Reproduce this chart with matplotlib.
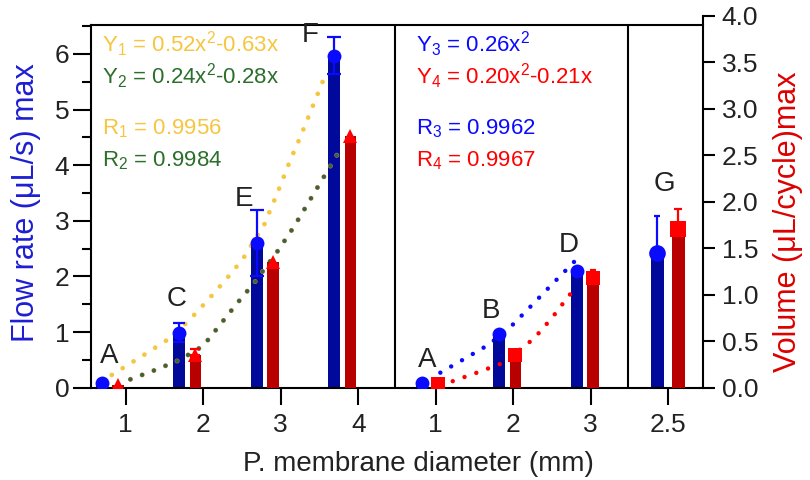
import numpy as np
import matplotlib
matplotlib.use('Agg')
import matplotlib.pyplot as plt
from matplotlib import patheffects as pe
from matplotlib.ticker import MultipleLocator

plt.rcParams['font.family'] = ['Liberation Sans', 'DejaVu Sans']
plt.rcParams['mathtext.default'] = 'regular'

# data
tick_labels = ['1', '2', '3', '4', '1', '2', '3', '2.5']
point_names = ['A', 'C', 'E', 'F', 'A', 'B', 'D', 'G']
flow = [0.08, 0.99, 2.60, 5.97, 0.09, 0.96, 2.09, 2.43]          # uL/s
flow_err_lo = [0, 0.17, 0.60, 0.33, 0, 0, 0, 0]
flow_err_hi = [0, 0.17, 0.60, 0.33, 0, 0, 0, 0.65]
volume = [0.03, 0.35, 1.35, 2.71, 0.04, 0.35, 1.18, 1.71]         # uL/cycle
volume_err_hi = [0, 0.07, 0, 0, 0, 0, 0.09, 0.21]

# dotted trend curves
trend1_x = [-0.18, 0.27, 0.57, 0.81, 1.05, 1.29, 1.51, 1.79, 1.98, 2.12, 2.26, 2.39, 2.59]
trend1_y = [0.23, 0.62, 0.89, 1.20, 1.56, 1.94, 2.31, 2.94, 3.58, 4.08, 4.53, 4.98, 5.67]
trend2_x = [0.06, 0.38, 0.70, 1.00, 1.22, 1.43, 1.66, 1.97, 2.17, 2.35, 2.53, 2.71, 2.80]
trend2_y = [0.09, 0.19, 0.30, 0.45, 0.68, 0.90, 1.13, 1.48, 1.73, 1.98, 2.23, 2.48, 2.61]
trend3_x = [4.06, 4.36, 4.68, 4.95, 5.19, 5.44, 5.82]
trend3_y = [0.27, 0.51, 0.77, 1.07, 1.41, 1.77, 2.31]
trend4_x = [4.22, 4.56, 4.88, 5.27, 5.50, 5.72, 5.84]
trend4_y = [0.07, 0.17, 0.27, 0.53, 0.75, 0.99, 1.10]

eq_left = ['Y$_1$ = 0.52x$^2$-0.63x', 'Y$_2$ = 0.24x$^2$-0.28x',
           'R$_1$ = 0.9956', 'R$_2$ = 0.9984']
eq_right = ['Y$_3$ = 0.26x$^2$', 'Y$_4$ = 0.20x$^2$-0.21x',
            'R$_3$ = 0.9962', 'R$_4$ = 0.9967']

# layout / style
blue_bar = '#00099a'
red_bar = '#b80000'
blue_pt = '#0a0aff'
red_pt = '#ff0000'
yellow = '#f6c640'
green = '#2c6e2c'
txt_col = '#222222'

x = np.arange(len(tick_labels))
blue_off = np.array([-0.31] * 4 + [-0.18] * 3 + [-0.14])
red_off = np.array([-0.10] * 4 + [0.03] * 3 + [0.13])
bar_w = [0.15] * 7 + [0.165]
xb = x + blue_off
xr = x + red_off
blue_cap = [0, 4.0, 4.7, 4.7, 0, 0, 0, 2.4]
red_cap = [0, 3.3, 0, 0, 0, 0, 2.4, 2.6]
label_xy = [(-0.21, 0.45), (0.66, 1.47), (1.52, 3.26), (2.38, 6.22),
            (3.89, 0.38), (4.72, 1.25), (5.72, 2.44), (6.95, 3.53)]

fig = plt.figure(figsize=(8.1, 4.8), dpi=100)
ax = fig.add_axes([0.1120, 0.1923, 0.7559, 0.7556])
ax2 = fig.add_axes([0.1120, 0.1923, 0.7559, 0.7750])
ax2.patch.set_visible(False)

xlim = (-0.452, 7.45)
ax.set_xlim(*xlim)
ax2.set_xlim(*xlim)
ax.set_ylim(0, 6.52)
ax2.set_ylim(0, 4.0)

# flow rate (left axis)
ax.plot(trend1_x, trend1_y, color=yellow, lw=3.4, linestyle=(0, (0.01, 2.7)),
        dash_capstyle='round', zorder=1)
ax.plot(trend3_x, trend3_y, color=blue_pt, lw=3.2, linestyle=(0, (0.01, 2.8)),
        dash_capstyle='round', zorder=1)
ax.bar(xb, flow, width=bar_w, color=blue_bar, zorder=2)
for i in range(len(x)):
    if flow_err_hi[i] > 0:
        ax.errorbar(xb[i], flow[i], yerr=[[flow_err_lo[i]], [flow_err_hi[i]]],
                    fmt='none', ecolor=blue_pt, elinewidth=1.6,
                    capsize=blue_cap[i], capthick=1.6, zorder=3)
ms_b = [10] * 7 + [12]
for i in range(len(x)):
    ax.plot(xb[i], flow[i], 'o', color=blue_pt, ms=ms_b[i], mew=0, zorder=4)

for i, name in enumerate(point_names):
    ax.text(label_xy[i][0], label_xy[i][1], name, fontsize=20, color=txt_col,
            ha='center', va='baseline')

ax.axvline(3.47, color='black', lw=1.5)
ax.axvline(6.48, color='black', lw=1.5)

# volume (right axis)
ax2.plot(trend2_x, trend2_y, color=green, lw=3.0, linestyle=(0, (0.01, 3.0)),
         dash_capstyle='round', zorder=1,
         path_effects=[pe.withStroke(linewidth=3.6, foreground='#e07070')])
ax2.plot(trend4_x, trend4_y, color=red_pt, lw=3.2, linestyle=(0, (0.01, 2.8)),
         dash_capstyle='round', zorder=1)
ax2.bar(xr, volume, width=bar_w, color=red_bar, zorder=2)
for i in range(len(x)):
    if volume_err_hi[i] > 0:
        ax2.errorbar(xr[i], volume[i], yerr=[[0], [volume_err_hi[i]]],
                     fmt='none', ecolor=red_pt, elinewidth=1.6,
                     capsize=red_cap[i], capthick=1.6, zorder=3)
ax2.plot(xr[:4], volume[:4], '^', color=red_pt, ms=10, mew=0, zorder=4)
ax2.plot(xr[4:7], volume[4:7], 's', color=red_pt, ms=10, mew=0, zorder=4)
ax2.plot(xr[7:], volume[7:], 's', color=red_pt, ms=12, mew=0, zorder=4)

# equations
eq_y = [6.04, 5.46, 4.55, 3.97]
eq_cols_l = [yellow, green, yellow, green]
eq_cols_r = [blue_pt, red_pt, blue_pt, red_pt]
for i in range(4):
    ax.text(-0.30, eq_y[i], eq_left[i], fontsize=16, color=eq_cols_l[i],
            va='baseline', ha='left')
    ax.text(3.75, eq_y[i], eq_right[i], fontsize=16, color=eq_cols_r[i],
            va='baseline', ha='left')

# axes styling
for s in ['left', 'top', 'bottom']:
    ax.spines[s].set_linewidth(1.5)
ax.spines['right'].set_visible(False)
for s in ['left', 'top', 'bottom']:
    ax2.spines[s].set_visible(False)
ax2.spines['right'].set_linewidth(1.5)

ax.set_xticks(x)
ax.set_xticklabels(tick_labels)
ax.yaxis.set_major_locator(MultipleLocator(1))
ax.yaxis.set_minor_locator(MultipleLocator(0.5))
ax.tick_params(axis='y', which='major', direction='out', length=13, width=1.5,
               labelsize=19, pad=2.5, labelcolor=txt_col)
ax.tick_params(axis='y', which='minor', direction='out', length=6.5, width=1.5)
ax.tick_params(axis='x', direction='out', length=12, width=1.5, labelsize=19,
               pad=6, labelcolor=txt_col)

ax2.set_xticks([])
ax2.yaxis.tick_right()
ax2.yaxis.set_major_locator(MultipleLocator(0.5))
ax2.yaxis.set_major_formatter(matplotlib.ticker.FormatStrFormatter('%.1f'))
ax2.tick_params(axis='y', direction='out', length=8.5, width=1.5, labelsize=19,
                pad=5, labelcolor=txt_col)

fig.text(0.516, 0.019, 'P. membrane diameter (mm)', fontsize=20, color=txt_col,
         ha='center', va='baseline')
fig.text(0.032, 0.578, 'Flow rate (μL/s) max', fontsize=22, color='#1e1ed2',
         rotation=90, ha='center', va='center')
fig.text(0.973, 0.538, 'Volume (μL/cycle)max', fontsize=22, color='#dd0000',
         rotation=90, ha='center', va='center')

fig.savefig('out.png', dpi=100)
